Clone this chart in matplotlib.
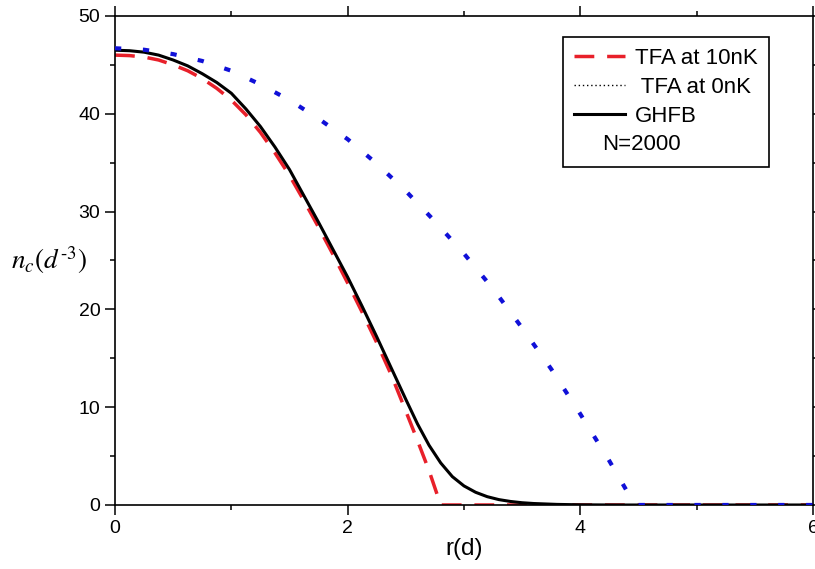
import matplotlib
matplotlib.use('Agg')
import matplotlib.pyplot as plt
from matplotlib.lines import Line2D
from matplotlib.ticker import MultipleLocator

plt.rcParams['font.family'] = ['Liberation Sans', 'DejaVu Sans']
plt.rcParams['mathtext.fontset'] = 'stix'

# TFA at 10nK (red dashed)
r_tfa10 = [0.0, 0.125, 0.25, 0.375, 0.5, 0.625, 0.75, 0.875, 1.0, 1.125, 1.25, 1.375, 1.5,
           1.625, 1.75, 1.875, 2.0, 2.125, 2.25, 2.375, 2.5, 2.6, 2.7, 2.8, 3.0, 4.0, 6.0]
n_tfa10 = [46.0, 45.95, 45.8, 45.5, 45.0, 44.4, 43.6, 42.6, 41.4, 39.9, 38.1, 36.0, 33.7,
           31.1, 28.4, 25.6, 22.7, 19.7, 16.6, 13.3, 9.6, 6.6, 3.5, 0.0, 0.0, 0.0, 0.0]

# TFA at 0nK (blue dotted)
r_tfa0 = [0.0, 0.25, 0.5, 0.75, 1.0, 1.25, 1.5, 1.75, 2.0, 2.25, 2.5, 2.75, 3.0, 3.25,
          3.5, 3.75, 4.0, 4.25, 4.47, 5.0, 6.0]
n_tfa0 = [46.7, 46.55, 46.1, 45.4, 44.4, 43.0, 41.4, 39.5, 37.4, 34.9, 32.1, 29.0, 25.7, 22.1,
          18.1, 13.9, 9.3, 4.5, 0.0, 0.0, 0.0]

# GHFB (black solid)
r_ghfb = [0.0, 0.125, 0.25, 0.375, 0.5, 0.625, 0.75, 0.875, 1.0, 1.125, 1.25, 1.375, 1.5,
          1.625, 1.75, 1.875, 2.0, 2.125, 2.25, 2.375, 2.5, 2.6, 2.7, 2.8, 2.9, 3.0, 3.1,
          3.2, 3.3, 3.4, 3.5, 3.6, 3.8, 4.0, 4.3, 6.0]
n_ghfb = [46.5, 46.45, 46.3, 46.0, 45.5, 44.9, 44.1, 43.2, 42.1, 40.5, 38.7, 36.6, 34.3,
          31.6, 28.9, 26.1, 23.3, 20.3, 17.2, 14.0, 10.8, 8.3, 6.1, 4.3, 2.9, 1.95, 1.3,
          0.85, 0.55, 0.36, 0.23, 0.15, 0.06, 0.02, 0.0, 0.0]

fig = plt.figure(figsize=(8.15, 5.69), dpi=100)
ax = fig.add_axes([0.1411, 0.1125, 0.8564, 0.8594])

ax.plot(r_tfa10, n_tfa10, color='#e8202a', lw=2.5, dashes=(5.7, 3.7), zorder=2)
ax.plot(r_ghfb, n_ghfb, color='black', lw=2.2, zorder=3)
ax.plot(r_tfa0, n_tfa0, color='#1010d8', lw=3.0, dashes=(1.5, 5.2), zorder=4)

ax.set_xlim(0, 6)
ax.set_ylim(0, 50)
ax.xaxis.set_major_locator(MultipleLocator(2))
ax.xaxis.set_minor_locator(MultipleLocator(1))
ax.yaxis.set_major_locator(MultipleLocator(10))
ax.yaxis.set_minor_locator(MultipleLocator(5))
ax.tick_params(which='both', direction='out', top=True, right=True, width=1.1, labelsize=14)
ax.tick_params(which='major', length=7)
ax.tick_params(which='minor', length=3.6)
for s in ax.spines.values():
    s.set_linewidth(1.2)

ax.set_xlabel('r(d)', fontsize=17.5, labelpad=1)
ax.set_ylabel(r'$n_c(d^{\text{-}3})$', fontsize=19.5, rotation=0)
ax.yaxis.set_label_coords(-0.095, 0.468)

handles = [
    Line2D([], [], color='#e8202a', lw=2.5, dashes=(5.7, 3.7)),
    Line2D([], [], color='black', lw=1.0, dashes=(1, 2)),
    Line2D([], [], color='black', lw=2.2),
    Line2D([], [], color='none'),
]
labels = ['TFA at 10nK', ' TFA at 0nK', 'GHFB', 'N=2000']
leg = ax.legend(handles, labels, loc='upper left', bbox_to_anchor=(0.642, 0.957),
                borderaxespad=0, fontsize=16, handlelength=2.3, handletextpad=0.45,
                labelspacing=0.35, fancybox=False, edgecolor='black', framealpha=1,
                borderpad=0.5)
leg.get_frame().set_linewidth(1.2)
leg.get_texts()[3].set_x(-33)

fig.savefig('out.png', dpi=100)
